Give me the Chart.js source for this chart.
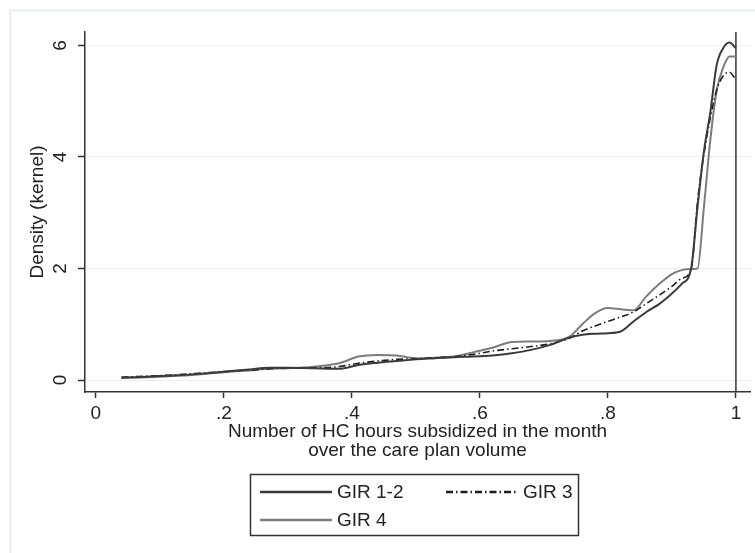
<!DOCTYPE html>
<html>
<head>
<meta charset="utf-8">
<script src="https://cdn.jsdelivr.net/npm/chart.js@4.4.0/dist/chart.umd.min.js"></script>
<style>
  html, body { margin: 0; padding: 0; background: #fff; }
  #wrap { width: 755px; height: 553px; }
</style>
</head>
<body>
<div id="wrap"><canvas id="densityChart" width="755" height="553"></canvas></div>
<script>
// Datos (densidad kernel)
var xGrid = [0.04, 0.08, 0.12, 0.16, 0.2, 0.24, 0.27, 0.30, 0.34, 0.38, 0.41, 0.44, 0.47, 0.50, 0.53, 0.56, 0.59, 0.62, 0.65, 0.68, 0.71, 0.74, 0.76, 0.78, 0.80, 0.82, 0.84, 0.86, 0.88, 0.90, 0.915, 0.93, 0.94, 0.95, 0.96, 0.97, 0.98, 0.99, 1.0];
var gir12 = [0.04, 0.06, 0.08, 0.11, 0.15, 0.19, 0.22, 0.22, 0.21, 0.20, 0.27, 0.31, 0.34, 0.37, 0.39, 0.41, 0.42, 0.44, 0.48, 0.54, 0.63, 0.76, 0.81, 0.83, 0.84, 0.87, 1.05, 1.22, 1.36, 1.55, 1.72, 2.0, 3.1, 4.1, 4.8, 5.65, 5.95, 6.05, 5.95];
var gir3 = [0.05, 0.07, 0.09, 0.12, 0.15, 0.18, 0.20, 0.22, 0.22, 0.24, 0.30, 0.34, 0.37, 0.38, 0.40, 0.42, 0.46, 0.52, 0.56, 0.60, 0.65, 0.75, 0.88, 0.97, 1.05, 1.13, 1.22, 1.37, 1.52, 1.68, 1.82, 1.98, 3.2, 4.05, 4.7, 5.2, 5.45, 5.52, 5.38];
var gir4 = [0.04, 0.05, 0.07, 0.10, 0.14, 0.17, 0.20, 0.21, 0.24, 0.30, 0.42, 0.45, 0.44, 0.39, 0.40, 0.42, 0.50, 0.58, 0.68, 0.69, 0.70, 0.78, 1.0, 1.2, 1.29, 1.27, 1.25, 1.50, 1.72, 1.90, 1.97, 1.99, 2.0, 3.1, 4.3, 5.2, 5.6, 5.8, 5.8];
var seriesNames = ['GIR 1-2', 'GIR 3', 'GIR 4'];
var xTicks = [0, 0.2, 0.4, 0.6, 0.8, 1];
var xTickLabels = ['0', '.2', '.4', '.6', '.8', '1'];
var yTicks = [0, 2, 4, 6];
var yTickLabels = ['0', '2', '4', '6'];
var xLineAt = 1;

var xMin = -0.017, xMax = 1.022, yMin = -0.215, yMax = 6.24;
var fontFamily = '"Liberation Sans", Arial, sans-serif';

function toPoints(ys) {
    return xGrid.map(function (x, i) { return { x: x, y: ys[i] }; });
}

// Marco exterior claro (estilo Stata)
var framePlugin = {
    id: 'frame',
    beforeDraw: function (chart) {
        var ctx = chart.ctx;
        ctx.save();
        ctx.fillStyle = '#ffffff';
        ctx.fillRect(0, 0, chart.width, chart.height);
        ctx.strokeStyle = '#eef3f5';
        ctx.lineWidth = 3;
        ctx.beginPath();
        ctx.moveTo(10.5, chart.height);
        ctx.lineTo(10.5, 10.5);
        ctx.lineTo(chart.width, 10.5);
        ctx.stroke();
        ctx.restore();
    }
};

// Leyenda con recuadro, dos columnas
var boxLegend = {
    id: 'boxLegend',
    afterDraw: function (chart) {
        var ctx = chart.ctx;
        var slots = [[260, 492], [446, 492], [260, 520]];
        ctx.save();
        ctx.strokeStyle = '#333';
        ctx.lineWidth = 1.5;
        ctx.strokeRect(250.5, 474.5, 328, 61);
        ctx.font = '19px ' + fontFamily;
        ctx.textBaseline = 'middle';
        ctx.fillStyle = '#222';
        chart.data.datasets.forEach(function (ds, i) {
            if (i >= seriesNames.length) return;
            var s = slots[i];
            ctx.strokeStyle = ds.borderColor;
            ctx.lineWidth = 2.5;
            ctx.setLineDash(ds.borderDash || []);
            ctx.beginPath();
            ctx.moveTo(s[0], s[1]);
            ctx.lineTo(s[0] + 72, s[1]);
            ctx.stroke();
            ctx.setLineDash([]);
            ctx.fillText(ds.label, s[0] + 77, s[1] + 1);
        });
        ctx.restore();
    }
};

var ctx = document.getElementById('densityChart').getContext('2d');
var densityChart = new Chart(ctx, {
    type: 'line',
    data: {
        datasets: [{
            label: seriesNames[0],
            data: toPoints(gir12),
            borderColor: '#3a3a3a',
            borderWidth: 2,
            pointRadius: 0,
            cubicInterpolationMode: 'monotone'
        }, {
            label: seriesNames[1],
            data: toPoints(gir3),
            borderColor: '#1e1e1e',
            borderWidth: 1.6,
            borderDash: [7, 3, 1.5, 3],
            pointRadius: 0,
            cubicInterpolationMode: 'monotone'
        }, {
            label: seriesNames[2],
            data: toPoints(gir4),
            borderColor: '#7c7c7c',
            borderWidth: 2,
            pointRadius: 0,
            cubicInterpolationMode: 'monotone'
        }, {
            label: 'xline',
            data: [{ x: xLineAt, y: yMin }, { x: xLineAt, y: yMax }],
            borderColor: '#333',
            borderWidth: 1.5,
            pointRadius: 0
        }]
    },
    options: {
        responsive: false,
        animation: false,
        layout: { padding: { left: 20, right: 5, top: 32, bottom: 81 } },
        plugins: {
            legend: { display: false },
            tooltip: { enabled: false }
        },
        scales: {
            x: {
                type: 'linear',
                min: xMin,
                max: xMax,
                afterBuildTicks: function (scale) {
                    scale.ticks = xTicks.map(function (v) { return { value: v }; });
                },
                afterFit: function (scale) { scale.height = 80; },
                ticks: {
                    font: { family: fontFamily, size: 19 },
                    color: '#222',
                    padding: 4,
                    maxRotation: 0,
                    callback: function (value) {
                        var i = xTicks.indexOf(value);
                        return i >= 0 ? xTickLabels[i] : '';
                    }
                },
                grid: {
                    drawOnChartArea: false,
                    drawTicks: true,
                    tickLength: 6,
                    tickColor: '#333',
                    tickWidth: 1.5
                },
                border: { color: '#333', width: 1.5 },
                title: {
                    display: true,
                    text: ['Number of HC hours subsidized in the month', 'over the care plan volume'],
                    font: { family: fontFamily, size: 19, lineHeight: 1.0 },
                    color: '#222',
                    padding: { top: 0, bottom: 12 }
                }
            },
            y: {
                type: 'linear',
                min: yMin,
                max: yMax,
                afterBuildTicks: function (scale) {
                    scale.ticks = yTicks.map(function (v) { return { value: v }; });
                },
                afterFit: function (scale) { scale.width = 65; },
                ticks: {
                    font: { family: fontFamily, size: 19 },
                    color: '#222',
                    padding: 12,
                    minRotation: 90,
                    maxRotation: 90,
                    crossAlign: 'center',
                    callback: function (value) {
                        var i = yTicks.indexOf(value);
                        return i >= 0 ? yTickLabels[i] : '';
                    }
                },
                grid: {
                    color: '#e9f0f2',
                    lineWidth: 1,
                    drawTicks: true,
                    tickLength: 7,
                    tickColor: '#333',
                    tickWidth: 1.5
                },
                border: { color: '#333', width: 1.5 },
                title: {
                    display: true,
                    text: 'Density (kernel)',
                    font: { family: fontFamily, size: 19 },
                    color: '#222',
                    padding: { top: 6, bottom: 0 }
                }
            }
        }
    },
    plugins: [framePlugin, boxLegend]
});
</script>
</body>
</html>
